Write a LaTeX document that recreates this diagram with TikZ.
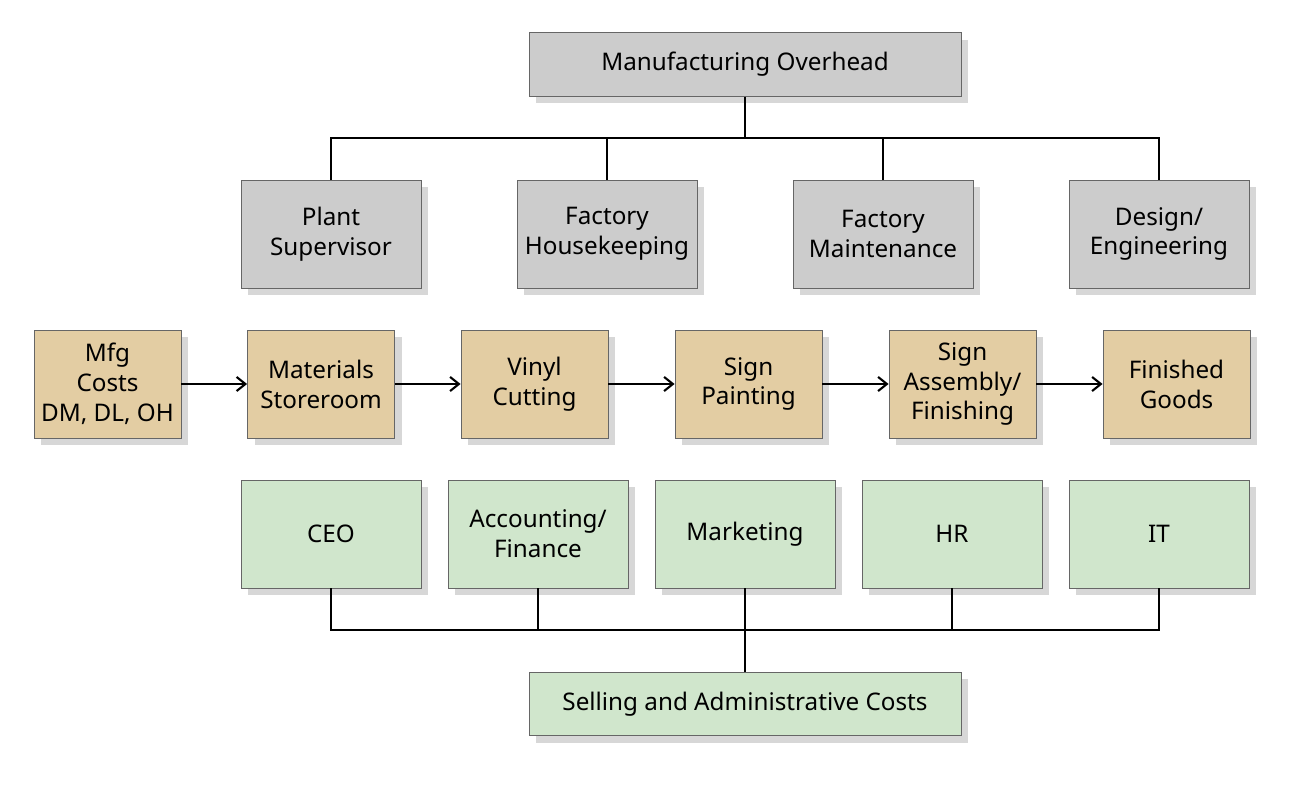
\documentclass[tikz,border=0pt]{standalone}
\usepackage{fontspec}
\setmainfont{Noto Sans}
\usetikzlibrary{shadows,arrows.meta}
\definecolor{gbox}{HTML}{CCCCCC}
\definecolor{tbox}{HTML}{E3CDA3}
\definecolor{vbox}{HTML}{D0E6CC}
\tikzset{
 box/.style={draw=black!60,line width=0.5pt,align=center,font=\fontsize{13.8}{17}\selectfont,
   drop shadow={shadow xshift=4pt,shadow yshift=-4pt,fill=black!35,opacity=0.45}},
 gb/.style={box,fill=gbox,minimum width=3.6cm,minimum height=2.16cm},
 tb/.style={box,fill=tbox,minimum width=2.94cm,minimum height=2.16cm},
 vb/.style={box,fill=vbox,minimum width=3.6cm,minimum height=2.16cm},
 wide/.style={box,minimum width=8.64cm,minimum height=1.27cm},
 conn/.style={line width=1.2pt},
 arr/.style={line width=1.2pt,-{Straight Barb[length=5pt,width=8pt]}}
}
\begin{document}
\begin{tikzpicture}[x=0.02cm,y=-0.02cm]
\useasboundingbox (0,0) rectangle (1300,787);
\node[wide,fill=gbox] (mo) at (745,64.5) {Manufacturing Overhead};
\node[gb] (ps) at (331,234) {Plant\\Supervisor};
\node[gb] (fh) at (607,234) {Factory\\Housekeeping};
\node[gb] (fm) at (883,234) {Factory\\Maintenance};
\node[gb] (de) at (1159,234) {Design/\\Engineering};
\draw[conn] (mo.south) -- (745,138);
\draw[conn] (ps.north) |- (fh.north |- 0,138) -- (fh.north);
\draw[conn] (fh.north |- 0,138) -| (fm.north);
\draw[conn] (fm.north |- 0,138) -| (de.north);
\node[tb] (mf) at (107.5,384) {Mfg\\Costs\\DM, DL, OH};
\node[tb] (ms) at (321,384) {Materials\\Storeroom};
\node[tb] (vc) at (534.5,384) {Vinyl\\Cutting};
\node[tb] (sp) at (748.5,384) {Sign\\Painting};
\node[tb] (sa) at (962.5,384) {Sign\\Assembly/\\Finishing};
\node[tb] (fg) at (1176.5,384) {Finished\\Goods};
\draw[arr] (mf) -- (ms);
\draw[arr] (ms) -- (vc);
\draw[arr] (vc) -- (sp);
\draw[arr] (sp) -- (sa);
\draw[arr] (sa) -- (fg);
\node[vb] (ceo) at (331,534) {CEO};
\node[vb] (af) at (538,534) {Accounting/\\Finance};
\node[vb] (mk) at (745,534) {Marketing};
\node[vb] (hr) at (952,534) {HR};
\node[vb] (it) at (1159,534) {IT};
\node[wide,fill=vbox] (sac) at (745,704) {Selling and Administrative Costs};
\draw[conn] (ceo.south) |- (it.south |- 0,630) -- (it.south);
\draw[conn] (af.south) -- (af.south |- 0,630);
\draw[conn] (hr.south) -- (hr.south |- 0,630);
\draw[conn] (mk.south) -- (sac.north);
\end{tikzpicture}
\end{document}
